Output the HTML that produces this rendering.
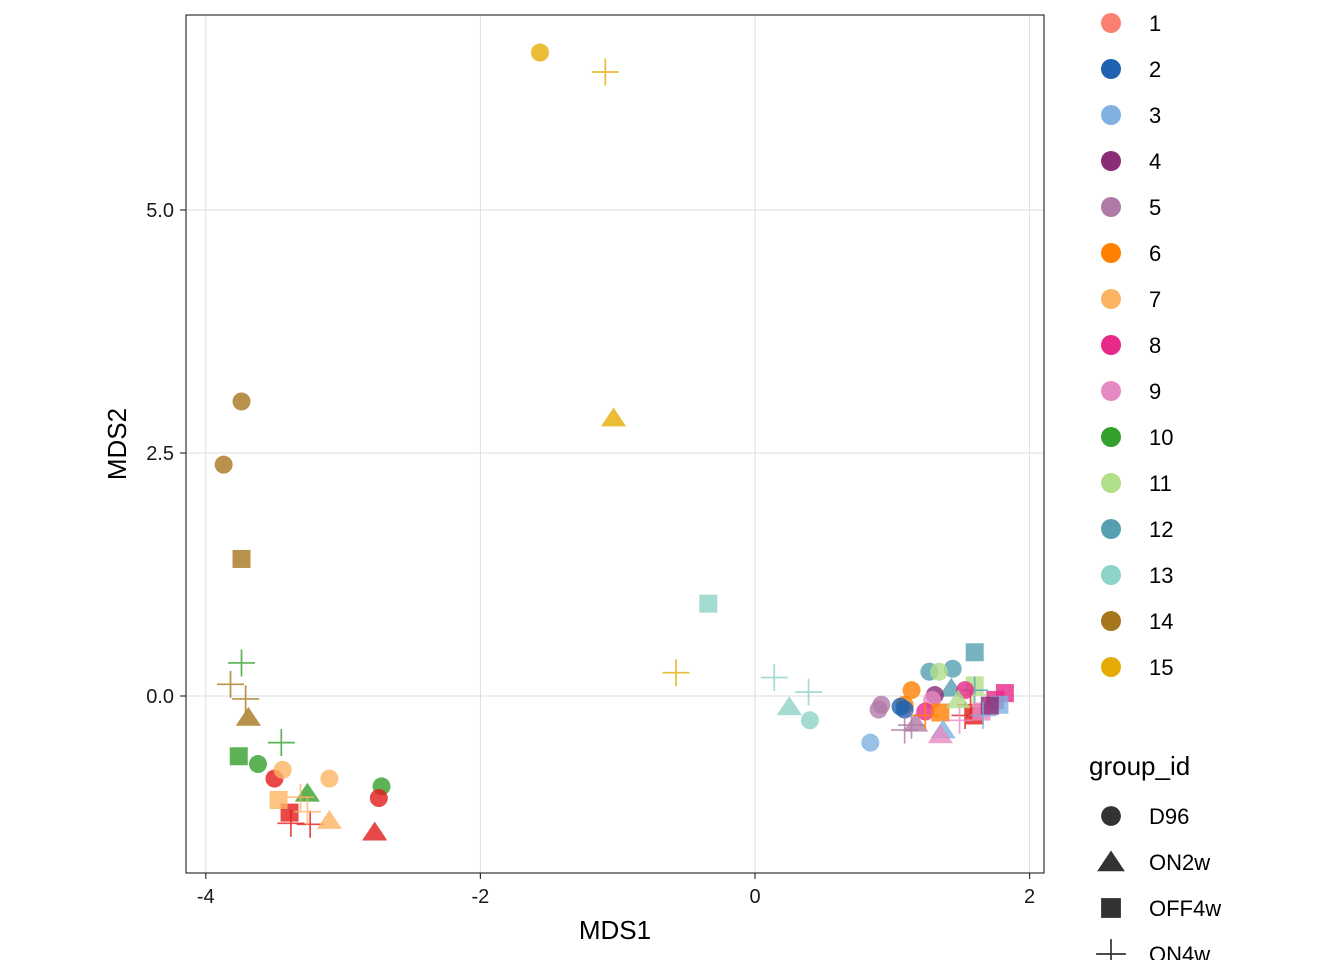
<!DOCTYPE html>
<html><head><meta charset="utf-8"><style>
html,body{margin:0;padding:0;background:#fff;}
svg{display:block;font-family:"Liberation Sans",Arial,sans-serif;}
</style></head><body>
<svg id="chart" width="1344" height="960">
<rect x="0" y="0" width="1344" height="960" fill="#fff"/>
<g id="grid"></g>
<g id="points"></g>
<rect x="186" y="15" width="858" height="858" fill="none" stroke="#333" stroke-width="1.2"/>
<g id="ticks"></g>
<text x="615" y="939" font-size="26" text-anchor="middle" fill="#000">MDS1</text>
<text x="126" y="444" font-size="26" text-anchor="middle" fill="#000" transform="rotate(-90 126 444)">MDS2</text>
<g id="legend"></g>
</svg>
<script>
const groups=["1","2","3","4","5","6","7","8","9","10","11","12","13","14","15"];
const legendColors=["#FB8072","#1F63B0","#80B1E0","#8B2C77","#B07AA8","#FF7F00","#FDB462","#E7298A","#E78AC3","#33A02C","#B2DF8A","#559FB0","#8DD3C7","#A6761D","#E6AB02"];
const pointColors=["#E31A1C","#1F63B0","#80B1E0","#8B2C77","#B07AA8","#FF7F00","#FDB462","#E7298A","#E78AC3","#33A02C","#B2DF8A","#559FB0","#8DD3C7","#A6761D","#E6AB02"];
const shapes=["D96","ON2w","OFF4w","ON4w"];
const xTicks=[-4,-2,0,2];
const yTicks=[0,2.5,5];
const yTickLabels=["0.0","2.5","5.0"];
const ptX=[-1.566,-1.09,-1.03,-0.575,-0.34,
-3.74,-3.87,-3.74,-3.69,-3.82,-3.71,
-3.74,-3.45,-3.76,-3.62,-3.26,-2.72,
-3.50,-3.39,-3.38,-3.24,-2.77,-2.74,
-3.44,-3.10,-3.47,-3.31,-3.10,-3.26,
0.14,0.39,0.25,0.40,
1.60,1.27,1.44,1.34,1.43,1.60,1.82,1.75,1.14,1.09,0.92,0.90,1.06,1.09,1.31,1.29,1.24,1.35,1.17,1.37,1.35,0.84,1.09,1.14,1.24,1.53,1.57,1.60,1.59,1.60,1.65,1.78,1.71,1.49,1.66,1.53,1.48];
const ptY=[6.62,6.42,2.86,0.24,0.95,
3.03,2.38,1.41,-0.22,0.12,-0.03,
0.34,-0.48,-0.62,-0.70,-1.0,-0.93,
-0.85,-1.20,-1.31,-1.32,-1.40,-1.05,
-0.76,-0.85,-1.07,-1.04,-1.28,-1.19,
0.19,0.04,-0.11,-0.25,
0.45,0.25,0.28,0.25,0.08,0.11,0.03,-0.04,0.06,-0.09,-0.09,-0.14,-0.11,-0.14,0.01,-0.04,-0.16,-0.17,-0.28,-0.35,-0.40,-0.48,-0.35,-0.30,-0.20,-0.20,-0.09,0.06,0.01,-0.20,-0.16,-0.09,-0.10,-0.25,-0.20,0.06,-0.04];
const ptGroup=[15,15,15,15,13,
14,14,14,14,14,14,
10,10,10,10,10,10,
1,1,1,1,1,1,
7,7,7,7,7,7,
13,13,13,13,
12,12,12,11,12,11,8,8,6,6,5,5,2,2,4,9,8,6,5,3,9,3,5,5,6,1,1,12,11,1,9,3,4,9,3,8,11];
const ptShape=[0,3,1,3,2,
0,0,2,1,3,3,
3,3,2,0,1,0,
0,2,3,3,1,0,
0,0,2,3,1,3,
3,3,1,0,
2,0,0,0,1,2,2,2,0,0,0,0,0,0,0,0,0,2,1,1,1,0,3,3,3,3,3,3,3,2,2,2,2,3,3,0,1];

const NS="http://www.w3.org/2000/svg";
const xs=v=>755+v*137.3;
const ys=v=>696-v*97.2;
function mk(tag,attrs,parent){const e=document.createElementNS(NS,tag);for(const k in attrs)e.setAttribute(k,attrs[k]);parent.appendChild(e);return e;}
const grid=document.getElementById('grid'),ticks=document.getElementById('ticks'),pts=document.getElementById('points'),leg=document.getElementById('legend');
xTicks.forEach(t=>{
 const l=mk('line',{x1:xs(t),x2:xs(t),y1:15,y2:873,stroke:'#dedede','stroke-width':1},grid);
 
 
 const tk=mk('line',{x1:xs(t),x2:xs(t),y1:873,y2:879,stroke:'#333','stroke-width':1.2},ticks);
 
 
 const tx=mk('text',{x:xs(t),y:903,'font-size':20,'text-anchor':'middle',fill:'#1a1a1a'},ticks);
 tx.textContent=String(t);
 
 
});
yTicks.forEach((t,i)=>{
 const l=mk('line',{x1:186,x2:1044,y1:ys(t),y2:ys(t),stroke:'#dedede','stroke-width':1},grid);
 
 
 const tk=mk('line',{x1:180,x2:186,y1:ys(t),y2:ys(t),stroke:'#333','stroke-width':1.2},ticks);
 
 
 const tx=mk('text',{x:174,y:ys(t)+7,'font-size':20,'text-anchor':'end',fill:'#1a1a1a'},ticks);
 tx.textContent=yTickLabels[i];
 
 
});
function shape(s,cx,cy,col,parent,sz){
 let e;
 if(s===0)e=mk('circle',{cx:cx,cy:cy,r:9*sz,fill:col},parent);
 else if(s===1){const h=10.5*sz;e=mk('polygon',{points:`${cx},${cy-h} ${cx-h*1.2},${cy+h*0.8} ${cx+h*1.2},${cy+h*0.8}`,fill:col},parent);}
 else if(s===2)e=mk('rect',{x:cx-9*sz,y:cy-9*sz,width:18*sz,height:18*sz,fill:col},parent);
 else {const h=13.5*sz;e=mk('path',{d:`M${cx-h},${cy}H${cx+h}M${cx},${cy-h}V${cy+h}`,stroke:col,'stroke-width':1.7,fill:'none'},parent);}
 return e;
}
for(let i=0;i<ptX.length;i++){
 const e=shape(ptShape[i],xs(ptX[i]),ys(ptY[i]),pointColors[ptGroup[i]-1],pts,1);
 e.setAttribute('opacity','0.8');
 
 
}
groups.forEach((g,i)=>{
 const c=mk('circle',{cx:1111,cy:23+46*i,r:10,fill:legendColors[i]},leg);
 
 
 const t=mk('text',{x:1149,y:31+46*i,'font-size':22,fill:'#000'},leg);
 t.textContent=g;
 
 
});
const gt=mk('text',{x:1089,y:775,'font-size':26,fill:'#000'},leg);
gt.textContent='group_id';


shapes.forEach((s,i)=>{
 const cy=816+46*i;
 const e=shape(i,1111,cy,'#333',leg,1.1);
 
 
 const t=mk('text',{x:1149,y:cy+8,'font-size':22,fill:'#000'},leg);
 t.textContent=s;
 
 
});
</script>
</body></html>
